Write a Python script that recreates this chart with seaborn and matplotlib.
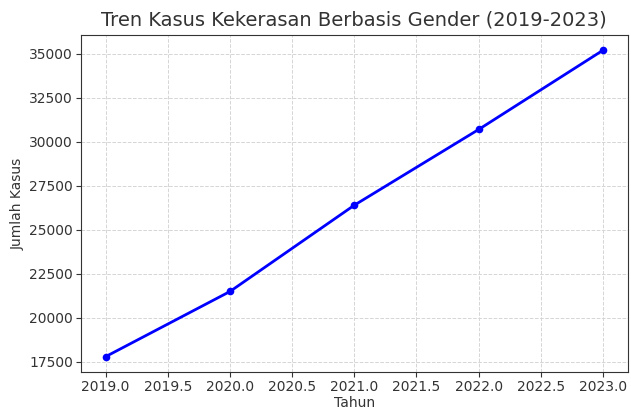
import matplotlib
matplotlib.use("Agg")
import matplotlib.pyplot as plt
import seaborn as sns
import pandas as pd

years = [2019, 2020, 2021, 2022, 2023]
cases = [17800, 21500, 26400, 30700, 35200]

sns.set_style("ticks")
plt.rcParams['font.family'] = ['DejaVu Sans']

df = pd.DataFrame({"Tahun": years, "Jumlah Kasus": cases})

fig, ax = plt.subplots(figsize=(6.31, 4.11), dpi=100)
sns.lineplot(data=df, x="Tahun", y="Jumlah Kasus", ax=ax, color="blue",
             marker="o", markersize=5.5, markeredgewidth=0, linewidth=2)
ax.set_title("Tren Kasus Kekerasan Berbasis Gender (2019-2023)", fontsize=14, color="#333333", pad=7)
ax.set_xlabel("Tahun", fontsize=10, color="#333333", labelpad=2)
ax.set_ylabel("Jumlah Kasus", fontsize=10, color="#333333", labelpad=3)
ax.tick_params(labelsize=10, colors="#333333", pad=2)
ax.grid(True, linestyle="--", color="#d5d5d5", linewidth=0.7)
for s in ax.spines.values():
    s.set_visible(True)
    s.set_color("#333333")
ax.set_xticks([2019.0, 2019.5, 2020.0, 2020.5, 2021.0, 2021.5, 2022.0, 2022.5, 2023.0])
ax.set_xticklabels([f"{t:.1f}" for t in ax.get_xticks()])
fig.subplots_adjust(left=0.128, right=0.995, top=0.915, bottom=0.095)
fig.savefig("out.png", dpi=100)
